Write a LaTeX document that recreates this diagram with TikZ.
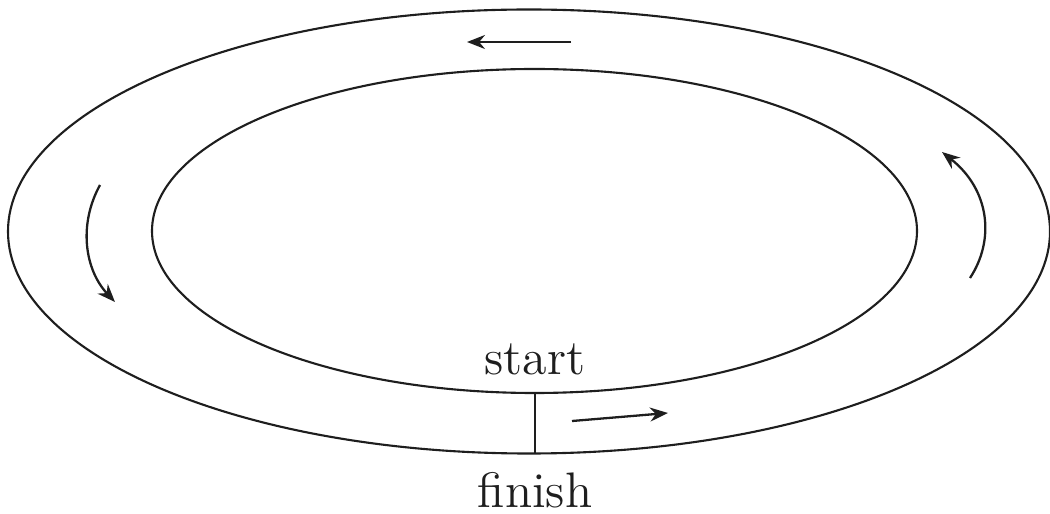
\documentclass[tikz,border=0pt]{standalone}
\usetikzlibrary{arrows.meta}
\definecolor{Ink}{HTML}{1E1E1E}
\begin{document}
\begin{tikzpicture}[x=0.1mm,y=-0.1mm, track/.style={draw=Ink,line width=0.6pt}, lap/.style={-{Stealth[length=1.8mm,width=1.4mm]},line width=0.65pt,draw=Ink}, tag/.style={text=Ink,font=\fontsize{14.2}{17}\selectfont,anchor=base,inner sep=0pt}]
\useasboundingbox (0,0) rectangle (1050,514);
\draw[track] (529,231.5) ellipse [x radius=521, y radius=222];
\draw[track] (534.5,231) ellipse [x radius=382.5, y radius=162];
\coordinate (inner) at (535,393);\coordinate (outer) at (535,453.5);
\draw[track] (inner)--(outer);
\node[tag] (start) at (535,375) {start};
\node[tag] (finish) at (535,507) {finish};
\coordinate (topA) at (571,42);\coordinate (topB) at (467,42);
\coordinate (botA) at (572,421);\coordinate (botB) at (668,413);
\coordinate (leftA) at (100,185);\coordinate (leftB) at (115,302);
\coordinate (rightA) at (970,278);\coordinate (rightB) at (942,152);
\draw[lap] (topA)--(topB);
\draw[lap] (botA)--(botB);
\draw[lap] (leftA) .. controls (78,225) and (85,270) .. (leftB);
\draw[lap] (rightA) .. controls (995,240) and (990,190) .. (rightB);
\end{tikzpicture}
\end{document}
